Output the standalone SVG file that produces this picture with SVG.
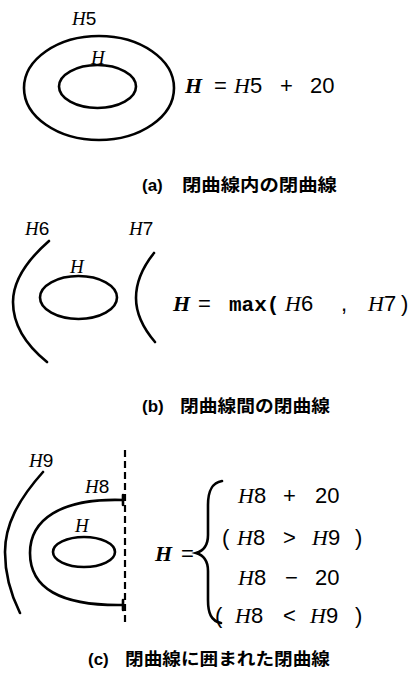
<svg xmlns="http://www.w3.org/2000/svg" width="412" height="674" viewBox="0 0 412 674">
<style>
.ln{fill:none;stroke:#000;stroke-width:2.6;stroke-linecap:round}
.dash{fill:none;stroke:#000;stroke-width:2.2;stroke-dasharray:7 4}
text{font-family:"Liberation Sans",Arial,sans-serif;fill:#000}
.lb{font-size:19px}
.fm{font-size:22px}
.it{font-family:"Liberation Serif","Times New Roman",serif;font-style:italic}
.bi{font-family:"Liberation Serif","Times New Roman",serif;font-style:italic;font-weight:bold}
.mono{font-family:"Liberation Mono","Courier New",monospace;font-weight:bold;font-size:21px}
.cap{font-size:17px;font-weight:bold;font-family:"Liberation Sans","Noto Sans CJK JP",sans-serif}
</style>
<rect width="412" height="674" fill="#fff"/>

<g id="a-outer"><ellipse class="ln" cx="99" cy="88" rx="75" ry="52"/><text class="lb" x="72" y="25"><tspan class="it">H</tspan>5</text></g>
<g id="a-inner"><ellipse class="ln" cx="97.5" cy="86.5" rx="38.5" ry="21.5"/><text class="lb it" x="91" y="64">H</text></g>
<g id="a-formula">
<text class="fm bi" x="185" y="93">H</text>
<text class="fm" x="214" y="93">=</text>
<text class="fm" x="234" y="93"><tspan class="it">H</tspan>5</text>
<text class="fm" x="280" y="93">+</text>
<text class="fm" x="310" y="93">20</text>
</g>
<g id="a-caption"><text class="cap" x="142" y="191">(a)</text><text class="cap" x="182" y="191" textLength="155" lengthAdjust="spacingAndGlyphs">閉曲線内の閉曲線</text></g>

<g id="b-h6"><path class="ln" d="M49,241 C25,262 13,282 13,302 C13,325 26,345 47,362"/><text class="lb" x="25" y="235"><tspan class="it">H</tspan>6</text></g>
<g id="b-h7"><path class="ln" d="M154,253 C142,268 136,283 136,298 C136,314 143,328 155,342"/><text class="lb" x="129" y="235"><tspan class="it">H</tspan>7</text></g>
<g id="b-inner"><ellipse class="ln" cx="78.5" cy="297.5" rx="38.5" ry="21.5"/><text class="lb it" x="70" y="273">H</text></g>
<g id="b-formula">
<text class="fm bi" x="173" y="311">H</text>
<text class="fm" x="198" y="311">=</text>
<text class="mono" x="229" y="311">max(</text>
<text class="fm" x="285" y="311"><tspan class="it">H</tspan>6</text>
<text class="fm" x="341" y="311">,</text>
<text class="fm" x="368" y="311"><tspan class="it">H</tspan>7</text>
<text class="fm" x="401" y="311">)</text>
</g>
<g id="b-caption"><text class="cap" x="142" y="412">(b)</text><text class="cap" x="180" y="412" textLength="150" lengthAdjust="spacingAndGlyphs">閉曲線間の閉曲線</text></g>

<g id="c-h9"><path class="ln" d="M43,472 C18,500 5,525 5,552 C5,575 11,595 20,613"/><text class="lb" x="29" y="467"><tspan class="it">H</tspan>9</text></g>
<g id="c-h8"><path class="ln" d="M123,500 C60,498 30,520 30,553 C30,588 60,606 123,605"/><path class="ln" d="M123,495 V505 M123,600 V610"/><text class="lb" x="85" y="493"><tspan class="it">H</tspan>8</text></g>
<g id="c-boundary"><line class="dash" x1="125" y1="450" x2="125" y2="625"/></g>
<g id="c-inner"><ellipse class="ln" cx="84" cy="552" rx="31" ry="15"/><text class="lb it" x="75" y="532">H</text></g>
<g id="c-formula">
<text class="fm bi" x="155" y="561">H</text>
<text class="fm" x="181" y="561">=</text>
<path class="ln" d="M222,481 C211,483 208,492 208,505 L208,535 C208,546 203,551 196,553 C203,555 208,560 208,571 L208,600 C208,613 211,621 221,623" stroke-width="2.4"/>
<text class="fm" x="238" y="503"><tspan class="it">H</tspan>8</text>
<text class="fm" x="283" y="503">+</text>
<text class="fm" x="315" y="503">20</text>
<text class="fm" x="222" y="545">(</text>
<text class="fm" x="237" y="545"><tspan class="it">H</tspan>8</text>
<text class="fm" x="283" y="545">&gt;</text>
<text class="fm" x="312" y="545"><tspan class="it">H</tspan>9</text>
<text class="fm" x="355" y="545">)</text>
<text class="fm" x="238" y="585"><tspan class="it">H</tspan>8</text>
<text class="fm" x="285" y="585">−</text>
<text class="fm" x="315" y="585">20</text>
<text class="fm" x="215" y="623">(</text>
<text class="fm" x="235" y="623"><tspan class="it">H</tspan>8</text>
<text class="fm" x="283" y="623">&lt;</text>
<text class="fm" x="310" y="623"><tspan class="it">H</tspan>9</text>
<text class="fm" x="355" y="623">)</text>
</g>
<g id="c-caption"><text class="cap" x="88" y="665">(c)</text><text class="cap" x="125" y="665" textLength="205" lengthAdjust="spacingAndGlyphs">閉曲線に囲まれた閉曲線</text></g>
</svg>
